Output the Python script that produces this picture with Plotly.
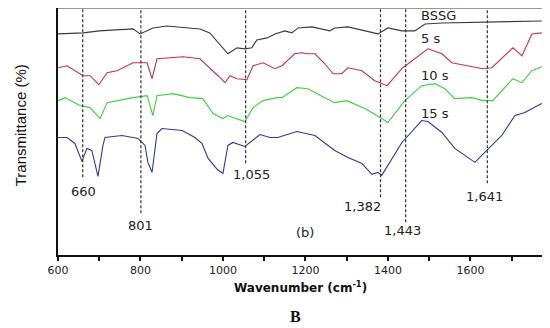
import plotly.graph_objects as go

# ---- data (wavenumber cm-1, relative transmittance, arbitrary offsets) ----
bssg_x = [600, 661, 700, 782, 799, 830, 864, 944, 968, 990, 1012, 1034, 1053, 1070, 1082, 1107, 1126,
          1150, 1167, 1182, 1216, 1259, 1271, 1303, 1361, 1376, 1400, 1434, 1465, 1490, 1531, 1773]
bssg_y = [222, 223, 225, 227, 222, 228, 230, 227, 223, 212, 202, 208, 207, 208, 216, 218, 222,
          225, 223, 228, 229, 225, 228, 229, 223, 222, 228, 225, 225, 232, 233, 235]

s5_x = [600, 622, 661, 678, 699, 719, 743, 782, 816, 828, 840, 903, 944, 968, 988, 1005, 1017, 1034,
        1058, 1073, 1097, 1126, 1143, 1174, 1191, 1206, 1223, 1247, 1267, 1288, 1303, 1337, 1368, 1398,
        1436, 1497, 1531, 1555, 1611, 1630, 1652, 1703, 1725, 1749, 1773]
s5_y = [188, 190, 180, 180, 171, 183, 185, 193, 193, 177, 197, 199, 197, 188, 180, 173, 180, 177,
        176, 190, 193, 187, 190, 202, 203, 202, 202, 192, 182, 182, 188, 185, 175, 170,
        188, 207, 202, 193, 188, 187, 188, 208, 200, 222, 223]

s10_x = [600, 617, 653, 678, 702, 719, 782, 816, 830, 840, 879, 920, 951, 976, 1000, 1012, 1024, 1053,
         1073, 1097, 1131, 1143, 1179, 1206, 1247, 1271, 1300, 1344, 1373, 1400, 1441, 1482, 1514, 1538,
         1562, 1604, 1630, 1654, 1703, 1725, 1749, 1773]
s10_y = [155, 158, 150, 148, 137, 153, 158, 160, 140, 160, 162, 158, 157, 142, 137, 140, 138, 134,
         148, 155, 158, 158, 168, 167, 158, 153, 155, 147, 140, 133, 155, 170, 172, 167,
         157, 158, 155, 155, 177, 173, 185, 189]

s15_x = [600, 622, 641, 658, 670, 682, 697, 709, 714, 755, 794, 811, 818, 828, 840, 852, 901, 932, 949,
         964, 988, 1000, 1012, 1024, 1053, 1090, 1114, 1133, 1179, 1223, 1271, 1303, 1337, 1361, 1376,
         1385, 1434, 1482, 1497, 1531, 1562, 1611, 1630, 1676, 1708, 1732, 1773]
s15_y = [118, 118, 112, 94, 107, 105, 79, 110, 118, 120, 117, 110, 93, 83, 122, 127, 125, 118, 112,
         97, 85, 82, 110, 113, 109, 121, 118, 118, 124, 120, 105, 98, 92, 81, 83,
         80, 113, 135, 134, 123, 107, 93, 101, 120, 140, 143, 152]

series_names = ["BSSG", "5 s", "10 s", "15 s"]
series_colors = ["#3a3a3a", "#cc3048", "#3cd23c", "#3434a8"]

peaks = [660, 801, 1055, 1382, 1443, 1641]
peak_labels = ["660", "801", "1,055", "1,382", "1,443", "1,641"]
peak_line_bottom = [78, 42, 92, 58, 33, 72]
peak_label_pos = [(661, 64), (801, 30), (1070, 81), (1339, 49), (1436, 25), (1633, 59)]

curve_label_y = [240, 217, 180, 142]

x_ticks = [600, 800, 1000, 1200, 1400, 1600]

fig = go.Figure()
for xs, ys, name, col in zip([bssg_x, s5_x, s10_x, s15_x], [bssg_y, s5_y, s10_y, s15_y],
                             series_names, series_colors):
    fig.add_trace(go.Scatter(x=xs, y=ys, mode="lines", name=name,
                             line=dict(color=col, width=1.1), hoverinfo="skip"))

for p, yb in zip(peaks, peak_line_bottom):
    fig.add_shape(type="line", x0=p, x1=p, y0=yb, y1=247, xref="x", yref="y",
                  line=dict(color="#333333", width=1.2, dash="3px,2px"))

for (lx, ly), lab in zip(peak_label_pos, peak_labels):
    fig.add_annotation(x=lx, y=ly, text=lab, showarrow=False, xref="x", yref="y",
                       font=dict(family="DejaVu Sans", size=13, color="#222222"))

for name, ly in zip(series_names, curve_label_y):
    fig.add_annotation(x=1476, y=ly, text=name, showarrow=False, xref="x", yref="y",
                       xanchor="left", font=dict(family="DejaVu Sans", size=13, color="#222222"))

fig.add_annotation(x=1199, y=23, text="(b)", showarrow=False, xref="x", yref="y",
                   font=dict(family="DejaVu Sans", size=13, color="#222222"))

# axis titles
fig.add_annotation(x=-0.078, y=0.526, xref="paper", yref="paper", text="Transmittance (%)",
                   textangle=-90, showarrow=False, xanchor="center", yanchor="middle",
                   font=dict(family="Liberation Sans", size=15, color="#111111"))
fig.add_annotation(x=0.5, y=-0.13, xref="paper", yref="paper",
                   text="<b>Wavenumber (cm<sup>-1</sup>)</b>", showarrow=False,
                   xanchor="center", yanchor="middle",
                   font=dict(family="DejaVu Sans", size=12, color="#111111"))
fig.add_annotation(x=0.49, y=-0.247, xref="paper", yref="paper", text="<b>B</b>",
                   showarrow=False, xanchor="center", yanchor="middle",
                   font=dict(family="Liberation Serif", size=16, color="#111111"))

# top and right frame in gray
fig.add_shape(type="line", xref="paper", yref="paper", x0=0, x1=1, y0=1, y1=1,
              line=dict(color="#777777", width=1.5))
fig.add_shape(type="line", xref="paper", yref="paper", x0=1, x1=1, y0=0, y1=1,
              line=dict(color="#444444", width=1.5))

# page body has an 8px default margin, so the figure is 8px smaller and offset
fig.update_layout(
    width=542, height=320,
    margin=dict(l=50, r=7, t=0, b=73),
    paper_bgcolor="white", plot_bgcolor="white",
    showlegend=False,
    xaxis=dict(range=[600, 1776], tickvals=x_ticks, ticks="outside", ticklen=4, tickwidth=1.5,
               tickcolor="#111111", showline=True, linecolor="#111111", linewidth=2,
               showgrid=False, zeroline=False,
               tickfont=dict(family="DejaVu Sans", size=11, color="#222222"),
               minor=dict(tickvals=[700, 900, 1100, 1300, 1500, 1700], ticks="outside",
                          ticklen=4, tickwidth=1.5, tickcolor="#111111")),
    yaxis=dict(range=[0, 248], showticklabels=False, ticks="", showline=True,
               linecolor="#111111", linewidth=2, showgrid=False, zeroline=False),
)

fig.write_html("out.html")
